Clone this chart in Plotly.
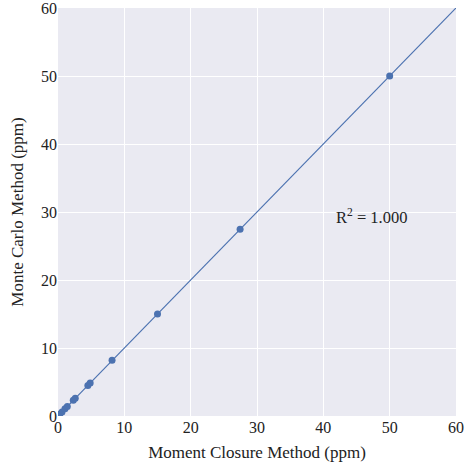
import plotly.graph_objects as go

moment_closure = [0.25, 0.6, 1.05, 1.4, 2.3, 2.6, 4.5, 4.85, 8.15, 15.0, 27.45, 50.0]
monte_carlo = [0.25, 0.6, 1.05, 1.4, 2.3, 2.6, 4.5, 4.85, 8.2, 15.0, 27.45, 50.0]
fit_x = [0, 60]
fit_y = [0, 60]
ticks = [0, 10, 20, 30, 40, 50, 60]

blue = "#4c72b0"
font = "Liberation Serif, Times New Roman, serif"

fig = go.Figure()
fig.add_trace(go.Scatter(x=fit_x, y=fit_y, mode="lines",
                         line=dict(color=blue, width=1.2), showlegend=False))
fig.add_trace(go.Scatter(x=moment_closure, y=monte_carlo, mode="markers",
                         marker=dict(color=blue, size=7), showlegend=False))

fig.add_annotation(x=47.2, y=29.3, text="R<sup>2</sup> = 1.000", showarrow=False,
                   font=dict(family=font, size=16.5, color="#222"))

axis_common = dict(range=[0, 60], tickvals=ticks, showgrid=True, gridcolor="white",
                   gridwidth=1.2, zeroline=False, showline=False, ticks="",
                   automargin=False, ticklabeloverflow="allow",
                   tickfont=dict(family=font, size=16, color="#222"))

fig.update_layout(
    width=470, height=464,
    margin=dict(l=58, r=14, t=8, b=48),
    plot_bgcolor="#eaeaf2", paper_bgcolor="white",
    font=dict(family=font, size=16, color="#222"),
    xaxis=dict(title=dict(text="Moment Closure Method (ppm)", font=dict(family=font, size=17), standoff=11),
               **axis_common),
    yaxis=dict(title=dict(text="Monte Carlo Method (ppm)", font=dict(family=font, size=17), standoff=13),
               **axis_common),
)

fig.write_html("out.html")
